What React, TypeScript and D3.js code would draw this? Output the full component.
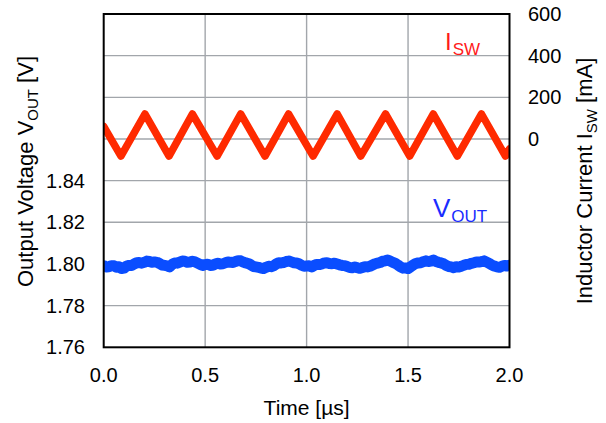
import React from "react";
import * as d3 from "d3";

// Inductor current triangle vertices (time µs, mA)
const iswTime = [0, 0.085, 0.203, 0.322, 0.437, 0.559, 0.675, 0.795, 0.911, 1.032, 1.151, 1.267, 1.389, 1.508, 1.624, 1.743, 1.862, 1.98, 2.0];
const iswValue = [60, -82, 120, -82, 120, -82, 120, -82, 120, -82, 120, -82, 120, -82, 120, -82, 120, -82, -48];

// Output voltage samples every 0.0125 µs (V)
const voutValue = [
  1.7992, 1.7985, 1.7986, 1.7992, 1.7991, 1.7984, 1.7987, 1.7978, 1.7980, 1.7990,
  1.7993, 1.7993, 1.8000, 1.8006, 1.8007, 1.8004, 1.8008, 1.8014, 1.8012, 1.8008,
  1.8010, 1.8008, 1.8002, 1.7995, 1.7993, 1.7991, 1.7986, 1.7998, 1.8005, 1.8004,
  1.8009, 1.8014, 1.8013, 1.8008, 1.8009, 1.8013, 1.8010, 1.8004, 1.7998, 1.7993,
  1.7997, 1.7999, 1.7993, 1.7994, 1.8000, 1.8004, 1.8000, 1.8001, 1.8006, 1.8010,
  1.8008, 1.8007, 1.8012, 1.8016, 1.8015, 1.8009, 1.8005, 1.8002, 1.7996, 1.7988,
  1.7986, 1.7984, 1.7980, 1.7978, 1.7984, 1.7989, 1.7987, 1.7991, 1.8000, 1.8006,
  1.8005, 1.8007, 1.8012, 1.8014, 1.8010, 1.8006, 1.8005, 1.8001, 1.7994, 1.7989,
  1.7990, 1.7991, 1.7986, 1.7993, 1.7998, 1.7997, 1.8000, 1.8005, 1.8006, 1.8002,
  1.8001, 1.8004, 1.8000, 1.7996, 1.7993, 1.7992, 1.7988, 1.7983, 1.7982, 1.7986,
  1.7982, 1.7979, 1.7983, 1.7987, 1.7986, 1.7989, 1.7995, 1.8001, 1.8004, 1.8007,
  1.8013, 1.8015, 1.8019, 1.8014, 1.8008, 1.8003, 1.7995, 1.7986, 1.7980, 1.7981,
  1.7978, 1.7986, 1.7995, 1.8002, 1.8005, 1.8006, 1.8011, 1.8015, 1.8012, 1.8014,
  1.8019, 1.8012, 1.8008, 1.8005, 1.8001, 1.7993, 1.7988, 1.7986, 1.7982, 1.7987,
  1.7985, 1.7989, 1.7994, 1.7998, 1.7999, 1.8003, 1.8006, 1.8010, 1.8009, 1.8011,
  1.8015, 1.8009, 1.8003, 1.7995, 1.7990, 1.7986, 1.7984, 1.7989, 1.7993, 1.7990,
  1.7994,
];
const voutStep = 0.0125;

const xTicks = [0, 0.5, 1.0, 1.5, 2.0];
const leftTicks = [1.76, 1.78, 1.8, 1.82, 1.84];
const leftGrid = [1.78, 1.8, 1.82, 1.84, 1.86, 1.88, 1.9];
const rightTicks = [0, 200, 400, 600];

const W = 606;
const H = 423;
const L = 103.7, R = 509.5, T = 14, B = 347.3;
const FONT = "'Liberation Sans', Arial, Helvetica, sans-serif";

export default function App() {
  const x = d3.scaleLinear().domain([0, 2]).range([L, R]);
  const yL = d3.scaleLinear().domain([1.76, 1.92]).range([B, T]);
  const yR = d3.scaleLinear().domain([-1000, 600]).range([B, T]);

  const iswLine = d3
    .line<number>()
    .x((_, i) => x(iswTime[i]))
    .y((v) => yR(v))(iswValue) as string;

  const voutLine = d3
    .line<number>()
    .x((_, i) => x(i * voutStep))
    .y((v) => yL(v))
    .curve(d3.curveLinear)(voutValue) as string;

  return (
    <svg
      width={W}
      height={H}
      style={{ position: "absolute", left: 0, top: 0, display: "block", background: "#fff" }}
      fontFamily={FONT}
    >
      <defs>
        <clipPath id="plot">
          <rect x={L} y={T} width={R - L} height={B - T} />
        </clipPath>
      </defs>
      {/* grid */}
      {xTicks.slice(1, -1).map((t) => (
        <line key={"gx" + t} x1={x(t)} x2={x(t)} y1={T} y2={B} stroke="#a2a6ab" strokeWidth={1.4} />
      ))}
      {leftGrid.map((v) => (
        <line key={"gy" + v} x1={L} x2={R} y1={yL(v)} y2={yL(v)} stroke="#a2a6ab" strokeWidth={1.4} />
      ))}
      {/* traces */}
      <g clipPath="url(#plot)">
        <path d={voutLine} fill="none" stroke="#0a4dff" strokeWidth={11} strokeLinejoin="round" strokeLinecap="round" />
        <path d={iswLine} fill="none" stroke="#ff2a00" strokeWidth={7.5} strokeLinejoin="round" strokeLinecap="round" />
      </g>
      {/* frame */}
      <rect x={L} y={T} width={R - L} height={B - T} fill="none" stroke="#000" strokeWidth={2} />
      {/* x tick labels */}
      {xTicks.map((t) => (
        <text key={"xt" + t} x={x(t)} y={382} fontSize={20} textAnchor="middle" fill="#000">
          {t.toFixed(1)}
        </text>
      ))}
      {/* left tick labels */}
      {leftTicks.map((v) => (
        <text key={"lt" + v} x={85} y={yL(v) + 7} fontSize={20} textAnchor="end" fill="#000">
          {v.toFixed(2)}
        </text>
      ))}
      {/* right tick labels */}
      {rightTicks.map((v) => (
        <text key={"rt" + v} x={528} y={yR(v) + 7} fontSize={20} textAnchor="start" fill="#000">
          {v}
        </text>
      ))}
      {/* axis titles */}
      <text x={(L + R) / 2} y={415} fontSize={21} textAnchor="middle" fill="#000">
        Time [µs]
      </text>
      <text transform={`translate(33,171.5) rotate(-90)`} fontSize={22} textAnchor="middle" fill="#000">
        Output Voltage V<tspan fontSize={15} dy={5}>OUT</tspan>
        <tspan dy={-5}> [V]</tspan>
      </text>
      <text transform={`translate(592,181) rotate(-90)`} fontSize={22} textAnchor="middle" fill="#000">
        Inductor Current I<tspan fontSize={15} dy={5}>SW</tspan>
        <tspan dy={-5}> [mA]</tspan>
      </text>
      {/* series labels */}
      <text x={445} y={49.5} fontSize={24} fill="#ff1a1a">
        I<tspan fontSize={17} dy={5.5} dx={1}>SW</tspan>
      </text>
      <text x={433} y={217} fontSize={26} fill="#1a2cff">
        V<tspan fontSize={17} dy={4.7} dx={1}>OUT</tspan>
      </text>
    </svg>
  );
}
